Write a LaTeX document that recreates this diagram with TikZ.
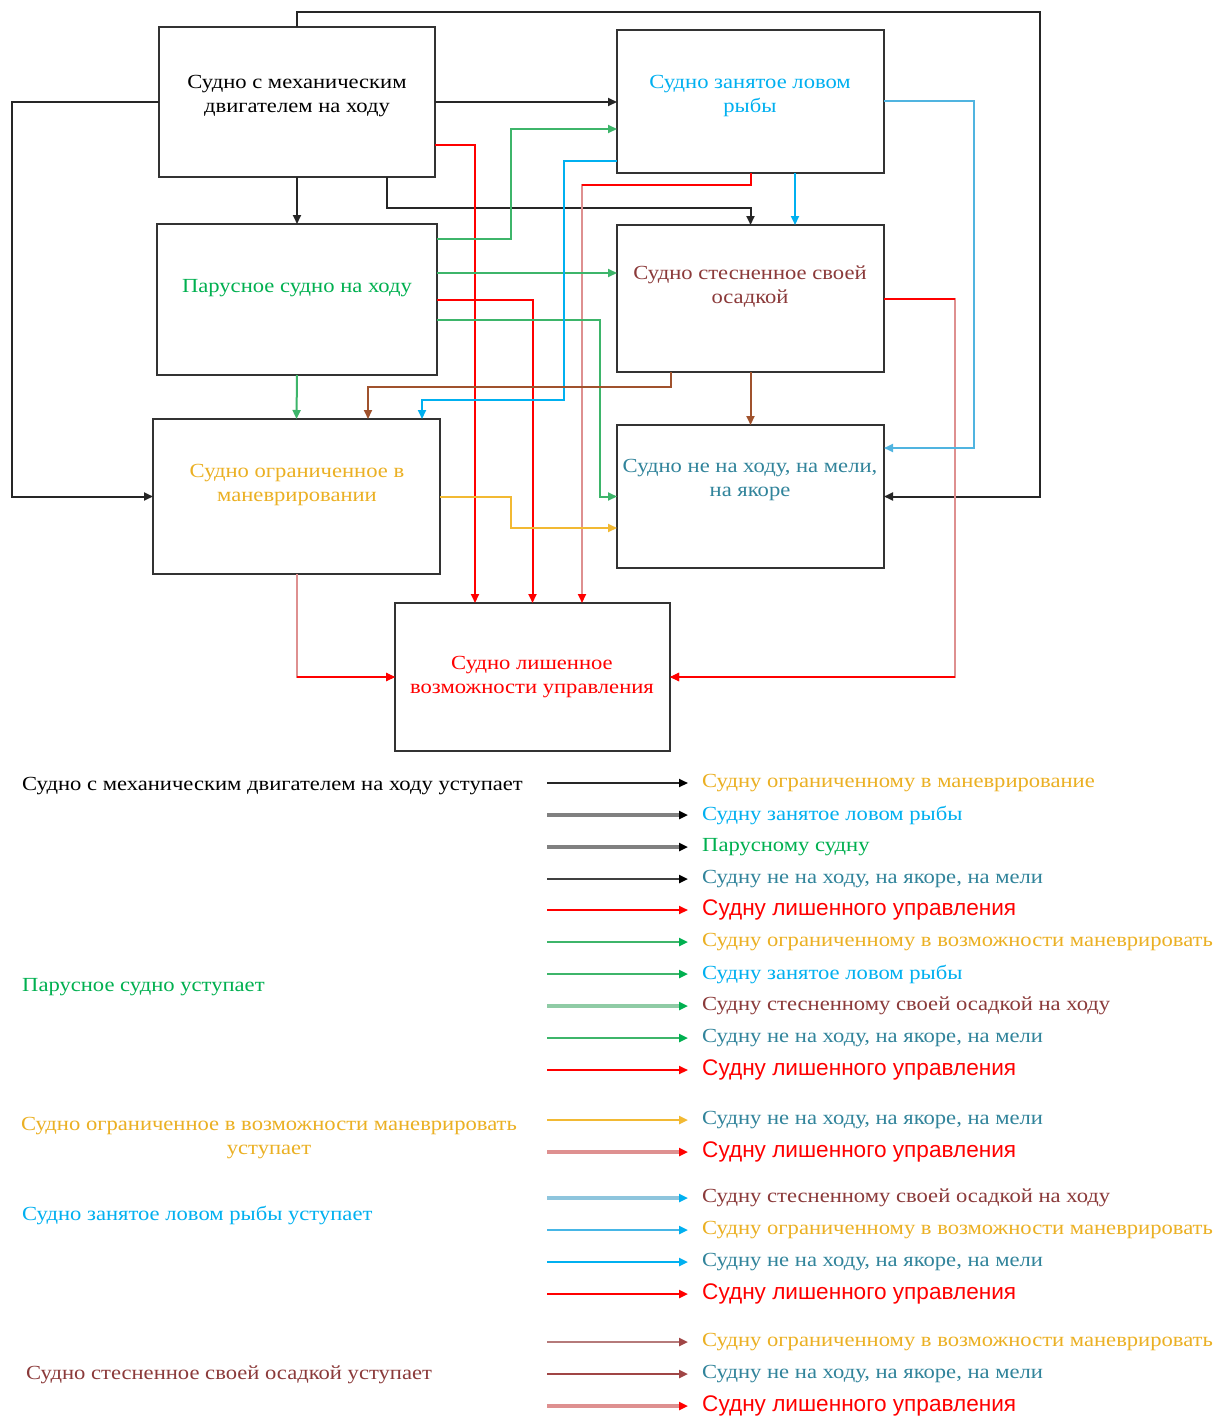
\documentclass[tikz,border=0pt]{standalone}
\usepackage{fontspec}
\setmainfont{Liberation Serif}[FakeStretch=1.13]
\newfontfamily\sansf{Liberation Sans}[Scale=1.13]
\usetikzlibrary{arrows.meta}
\definecolor{cBlue}{HTML}{00B0F0}
\definecolor{cBlueM}{HTML}{46B6E6}
\definecolor{cBlueP}{HTML}{8EC5DD}
\definecolor{cBlueR}{HTML}{50B4E0}
\definecolor{cGreen}{HTML}{00B050}
\definecolor{cGreenL}{HTML}{3DB56A}
\definecolor{cGreenP}{HTML}{8FCBA5}
\definecolor{cGray}{HTML}{808080}
\definecolor{cYellow}{HTML}{F2B933}
\definecolor{cGold}{HTML}{EBB023}
\definecolor{cPink}{HTML}{DE9090}
\definecolor{cBrownP}{HTML}{B57A7A}
\definecolor{cBrownD}{HTML}{A04545}
\definecolor{cTeal}{HTML}{31849B}
\definecolor{cBrownT}{HTML}{8B3A3A}
\definecolor{cSienna}{HTML}{A0522D}
\begin{document}
\begin{tikzpicture}[x=1pt,y=-1pt,
  box/.style={draw=black!80, line width=2.2pt, outer sep=0pt, inner sep=0pt, anchor=north west},
  btxt/.style={align=center, font=\fontsize{20}{24}\selectfont, inner sep=0pt},
  legt/.style={anchor=west, font=\fontsize{20}{24}\selectfont, inner sep=0pt},
  conn/.style={line width=2pt, -{Triangle[length=9pt,width=8pt]}},
  redpart/.style={line width=2pt, red},
]
\useasboundingbox[fill=white] (0,0) rectangle (1220,1418);

% boxes
\node[box, minimum width=276pt, minimum height=150pt] (A) at (159,27) {};
\node[box, minimum width=267pt, minimum height=143pt] (B) at (617,30) {};
\node[box, minimum width=280pt, minimum height=151pt] (C) at (157,224) {};
\node[box, minimum width=267pt, minimum height=147pt] (D) at (617,225) {};
\node[box, minimum width=287pt, minimum height=155pt] (E) at (153,419) {};
\node[box, minimum width=267pt, minimum height=143pt] (F) at (617,425) {};
\node[box, minimum width=275pt, minimum height=148pt] (G) at (395,603) {};

% box texts
\node[btxt, text=black] (At) at (297,96) {Судно с механическим\\двигателем на ходу};
\node[btxt, text=cBlue] (Bt) at (750,96) {Судно занятое ловом\\рыбы};
\node[btxt, text=cGreen] (Ct) at (297,288) {Парусное судно на ходу};
\node[btxt, text=cBrownT] (Dt) at (750,287) {Судно стесненное своей\\осадкой};
\node[btxt, text=cGold] (Et) at (297,485) {Судно ограниченное в\\маневрировании};
\node[btxt, text=cTeal] (Ft) at (750,480) {Судно не на ходу, на мели,\\на якоре};
\node[btxt, text=red] (Gt) at (532,677) {Судно лишенное\\возможности управления};

% black connectors (from A)
\draw[conn, black!85] (A.east) -- (A.east -| B.west);
\draw[conn, black!85] (A.south) -- (C.north);
\draw[conn, black!85] ([xshift=90pt]A.south) -- ++(0,31) -| (D.north);
\draw[conn, black!85] (A.west) -- ++(-147,0) |- (E.west);
\draw[conn, black!85] (A.north) -- ++(0,-15) -| (1040,450) |- (F.east);

% red connectors
\draw[conn, red] ([yshift=-43pt]A.east) -| ([xshift=-57.5pt]G.north);
\draw[conn, red] (C.east) -| (G.north);
\draw[conn, cPink, -{Triangle[length=9pt,width=8pt,color=red]}] (B.south) -- ++(0,12) -| ([xshift=49.5pt]G.north);
\draw[redpart] (B.south) -- ++(0,12) -- ++(-168.5,0);
\draw[conn, cPink, -{Triangle[length=9pt,width=8pt,color=red]}] (D.east) -- ++(71,0) |- (G.east);
\draw[redpart] (D.east) -- ++(71,0);
\draw[redpart, -{Triangle[length=9pt,width=8pt]}] ([xshift=285pt]G.east) -- (G.east);
\draw[conn, cPink, -{Triangle[length=9pt,width=8pt,color=red]}] (E.south) |- (G.west);
\draw[redpart, -{Triangle[length=9pt,width=8pt]}] ([xshift=-98.5pt]G.west) -- (G.west);

% green connectors (from C)
\draw[conn, cGreenL] ([yshift=60.5pt]C.east) -| (511,129) -- ([yshift=-27.5pt]B.west);
\draw[conn, cGreenL] ([yshift=26.5pt]C.east) -- ([yshift=26.5pt]C.east -| D.west);
\draw[conn, cGreenL] ([yshift=-20.5pt]C.east) -| ([xshift=-17pt]F.west) -- (F.west);
\draw[conn, cGreenL] (C.south) -- (E.north);

% cyan connectors (from B)
\draw[conn, cBlue] ([yshift=-59.5pt]B.west) -| (564,400) -| ([xshift=125.5pt]E.north);
\draw[conn, cBlueR] (B.east) -| (974,420) |- ([yshift=48.5pt]F.east);
\draw[conn, cBlue] ([xshift=44.5pt]B.south) -- ([xshift=44.5pt]D.north);

% brown connectors (from D)
\draw[conn, cSienna] ([xshift=-79.5pt]D.south) -- ++(0,15) -| ([xshift=71.5pt]E.north);
\draw[conn, cSienna] (D.south) -- (F.north);

% yellow connector (from E)
\draw[conn, cYellow] (E.east) -- ++(71,0) |- ([yshift=-31.5pt]F.west);

% legend: left labels
\node[legt, text=black] (LA) at (22,786) {Судно с механическим двигателем на ходу уступает};
\node[legt, text=cGreen] (LC) at (22,987) {Парусное судно уступает};
\node[btxt, text=cGold] (LE) at (269,1138) {Судно ограниченное в возможности маневрировать\\уступает};
\node[legt, text=cBlue] (LB) at (22,1215) {Судно занятое ловом рыбы уступает};
\node[legt, text=cBrownT] (LD) at (26,1375) {Судно стесненное своей осадкой уступает};

% legend: arrows and targets
\foreach \i/\y/\lc/\lw/\hc/\tc/\txt in {
 1/784/black!85/2/black/cGold/{Судну ограниченному в маневрирование},
 2/816/cGray/3.2/black/cBlue/{Судну занятое ловом рыбы},
 3/848/cGray/3.2/black/cGreen/{Парусному судну},
 4/880/black!75/2.4/black/cTeal/{Судну не на ходу, на якоре, на мели},
 5/911/red/2/red/red/{\sansf Судну лишенного управления},
 6/943/cGreenL/2.4/cGreen/cGold/{Судну ограниченному в возможности маневрировать},
 7/975/cGreenL/2.4/cGreen/cBlue/{Судну занятое ловом рыбы},
 8/1007/cGreenP/3.2/cGreen/cBrownT/{Судну стесненному своей осадкой на ходу},
 9/1039/cGreenL/2.4/cGreen/cTeal/{Судну не на ходу, на якоре, на мели},
 10/1071/red/2/red/red/{\sansf Судну лишенного управления},
 11/1121/cYellow/2.2/cYellow/cTeal/{Судну не на ходу, на якоре, на мели},
 12/1153/cPink/3.2/red/red/{\sansf Судну лишенного управления},
 13/1199/cBlueP/3.2/cBlue/cBrownT/{Судну стесненному своей осадкой на ходу},
 14/1231/cBlueM/2.6/cBlue/cGold/{Судну ограниченному в возможности маневрировать},
 15/1263/cBlue/2.2/cBlue/cTeal/{Судну не на ходу, на якоре, на мели},
 16/1295/red/2.4/red/red/{\sansf Судну лишенного управления},
 17/1343/cBrownP/2.4/cBrownD/cGold/{Судну ограниченному в возможности маневрировать},
 18/1375/cBrownD/2.4/cBrownD/cTeal/{Судну не на ходу, на якоре, на мели},
 19/1407/cPink/3.2/red/red/{\sansf Судну лишенного управления}}
{
 \node[legt, text=\tc] (L\i) at (702,\y-1) {\txt};
 \draw[line width=\lw pt, draw=\lc, -{Triangle[length=9pt,width=8pt,color=\hc]}]
   ([xshift=-155pt]L\i.west) -- ([xshift=-14pt]L\i.west);
}
\end{tikzpicture}
\end{document}
